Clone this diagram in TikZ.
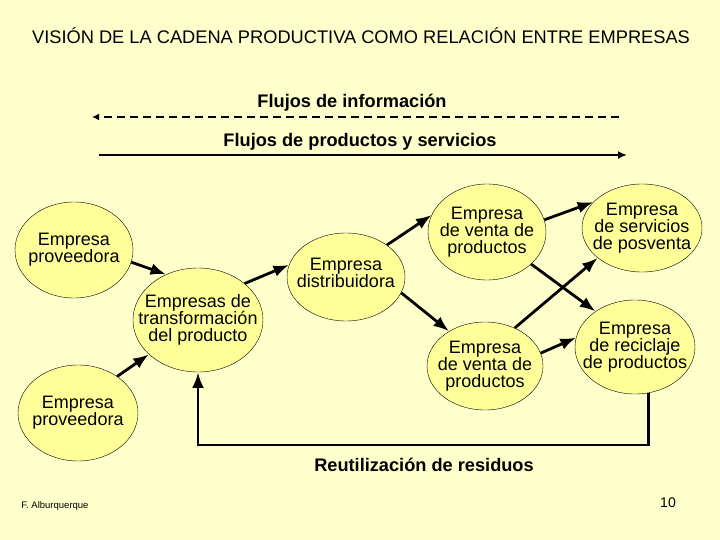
\documentclass[tikz,border=0pt]{standalone}
\usepackage{fontspec}
\setmainfont{Liberation Sans}
\usetikzlibrary{arrows.meta,positioning,shapes}
\definecolor{fondo}{RGB}{255,255,204}
\definecolor{elipse}{RGB}{255,255,153}

\begin{document}
\begin{tikzpicture}[x=1pt,y=-1pt,>=Latex, every node/.style={font=\fontsize{18}{17}\selectfont}]
\tikzstyle{emp}=[ellipse,draw,line width=0.4pt,fill=elipse,align=center,inner xsep=-18pt,inner ysep=0pt]
\tikzstyle{flujo}=[->,line width=2.8pt]
\tikzstyle{rotulo}=[font=\fontsize{18.2}{17}\selectfont\bfseries]
\fill[fondo] (0,0) rectangle (720,540);
\node[font=\fontsize{18.25}{18}\selectfont] at (361,36) (titulo) {VISIÓN DE LA CADENA PRODUCTIVA COMO RELACIÓN ENTRE EMPRESAS};
% flujos
\node[rotulo] at (352,103) (lblinfo) {Flujos de información};
\node[rotulo] at (360,142) (lblprod) {Flujos de productos y servicios};
\coordinate (infoI) at (92,117);
\coordinate (infoD) at (619,117);
\coordinate (prodI) at (99,155);
\coordinate (prodD) at (627,155);
\draw[-{Latex[length=7pt,width=7pt]},line width=1.8pt,dash pattern=on 8pt off 5pt] (infoD) -- (infoI);
\draw[-{Latex[length=9pt,width=8pt]},line width=2.8pt] (prodI) -- (prodD);
% empresas
\node[emp,minimum width=118pt,minimum height=96pt] at (74,250) (prov1) {Empresa\\proveedora};
\node[emp,minimum width=120pt,minimum height=96pt] at (78,413) (prov2) {Empresa\\proveedora};
\node[emp,minimum width=130pt,minimum height=104pt] at (198,320) (transf) {Empresas de\\transformación\\del producto};
\node[emp,minimum width=118pt,minimum height=88pt,text depth=8pt] at (346,277) (distrib) {Empresa\\distribuidora};
\node[emp,minimum width=118pt,minimum height=96pt] at (487,232) (venta1) {Empresa\\de venta de\\productos};
\node[emp,minimum width=116pt,minimum height=88pt] at (485,366) (venta2) {Empresa\\de venta de\\productos};
\node[emp,minimum width=120pt,minimum height=88pt] at (642,228) (posv) {Empresa\\de servicios\\de posventa};
\node[emp,minimum width=120pt,minimum height=94pt] at (635,347) (recic) {Empresa\\de reciclaje\\de productos};
% conexiones
\draw[flujo] (prov1.-12) -- (transf.125);
\draw[flujo] (prov2.43) -- (transf.-145);
\draw[flujo] (transf.38) -- (distrib.168);
\draw[flujo] (distrib.38) -- (venta1.163);
\draw[flujo] (distrib.-16) -- (venta2.136);
\draw[flujo] (venta1.-36) -- (recic.138);
\draw[flujo] (venta2.52) -- (posv.-146);
\draw[flujo] (venta1.12) -- (posv.152);
\draw[flujo] (venta2.13) -- (recic.171);
\coordinate (base) at (420,445);
\draw[flujo] (recic.-74) |- (base) -| (transf.south);
\node[rotulo] at (424,465) (lblres) {Reutilización de residuos};
% pie
\node[font=\fontsize{9.5}{10}\selectfont] at (55,506) (autor) {F. Alburquerque};
\node[font=\fontsize{14}{14}\selectfont] at (668,503) (pag) {10};
\end{tikzpicture}
\end{document}
